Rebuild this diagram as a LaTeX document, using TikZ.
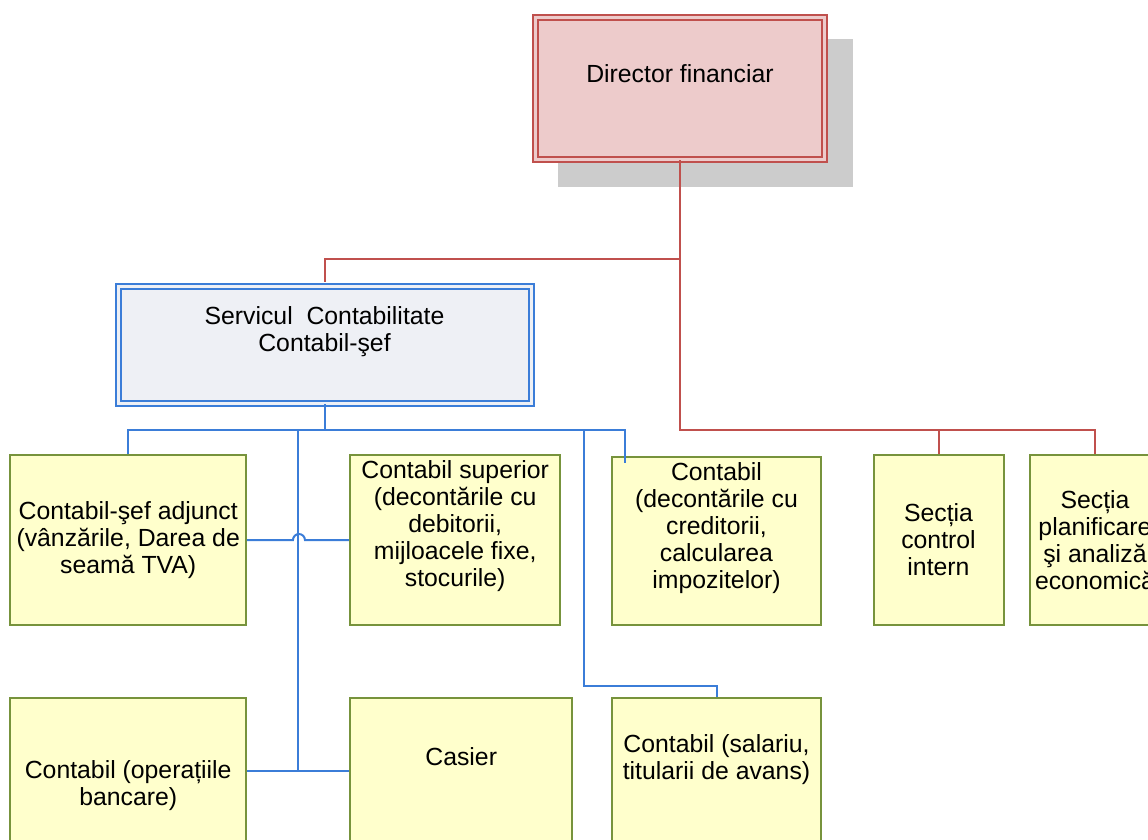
\documentclass[tikz,border=0pt]{standalone}
\usepackage{fontspec}
\setmainfont{Liberation Sans}
\usetikzlibrary{positioning}
\definecolor{redline}{HTML}{C0504D}
\definecolor{pinkfill}{HTML}{EDCBCB}
\definecolor{blueline}{HTML}{3B7DD8}
\definecolor{servfill}{HTML}{EEF0F5}
\definecolor{yelfill}{HTML}{FFFFCC}
\definecolor{olivedraw}{HTML}{77933C}
\definecolor{shadowgray}{HTML}{CCCCCC}

\begin{document}
\begin{tikzpicture}[x=1pt,y=-1pt,
    every node/.style={inner sep=0pt, align=center, font=\fontsize{24.8}{27}\selectfont},
    dirbox/.style={draw=redline, fill=pinkfill, line width=2pt, double=pinkfill, double distance=3pt},
    servbox/.style={draw=blueline, fill=servfill, line width=2pt, double=servfill, double distance=3pt},
    ybox/.style={draw=olivedraw, fill=yelfill, line width=2pt},
    rline/.style={draw=redline, line width=2pt},
    bline/.style={draw=blueline, line width=2pt}]
  \useasboundingbox (0,0) rectangle (1148,839);
  \fill[shadowgray] (558,39) rectangle (853,187);

  \node[dirbox, minimum width=288.5pt, minimum height=141.5pt] (dir) at (680,88.7) {};
  \node[servbox, minimum width=413pt, minimum height=116.5pt] (serv) at (324.5,345) {};

  \node[ybox, minimum width=235.5pt, minimum height=170pt] (adj) at (128.2,540)
    {Contabil-şef adjunct\\(vânzările, Darea de\\seamă TVA)};
  \node[ybox, minimum width=210.5pt, minimum height=170pt] (sup) at (455.2,540) {};
  \node[ybox, minimum width=209pt, minimum height=168pt] (cred) at (716.5,541) {};
  \node[ybox, minimum width=130pt, minimum height=170pt] (ctrl) at (938.5,540)
    {Secția\\control\\intern};
  \node[ybox, minimum width=130pt, minimum height=170pt] (plan) at (1095,540)
    {Secția\\planificare\\şi analiză\\economică};
  \node[ybox, minimum width=235.5pt, minimum height=146pt] (banc) at (128.2,771) {};
  \node[ybox, minimum width=222.5pt, minimum height=146pt] (cas) at (461.2,771) {};
  \node[ybox, minimum width=209pt, minimum height=146pt] (sal) at (716.5,771) {};

  \coordinate (rj) at (680,259);
  \coordinate (rb) at (680,430);
  \coordinate (bj) at (324.5,430);
  \coordinate (bv) at (298,430);
  \coordinate (bs) at (584,430);
  \coordinate (sk) at (584,686);
  \coordinate (cd) at (625,463);

  \draw[rline] (dir.south) -- (rj) -| ([yshift=3.5pt]serv.north);
  \draw[rline] (rj) -- (rb) -| (plan.north);
  \draw[rline] (ctrl.north) -- (ctrl.north |- rb);

  \draw[bline] (serv.south) -- (bj);
  \draw[bline] (adj.north) |- (bj) -| (cd);
  \draw[bline] (bv) -- (bv |- banc.east);
  \draw[bline] (banc.east) -- (cas.west);
  \draw[bline] (adj.east) -- ++(46,0) arc[start angle=180, end angle=0, radius=6pt] -- (sup.west);
  \draw[bline] (bs) -- (sk) -| (sal.north);

  \node[below=47pt of dir.north] (dir-t) {Director financiar};
  \node[below=21pt of serv.north] (serv-t) {Servicul~ Contabilitate\\Contabil-şef};
  \node[below=6.5pt of sup.north] (sup-t)
    {Contabil superior\\(decontările cu\\debitorii,\\mijloacele fixe,\\stocurile)};
  \node[below=6pt of cred.north] (cred-t)
    {Contabil\\(decontările cu\\creditorii,\\calcularea\\impozitelor)};
  \node[below=63.5pt of banc.north] (banc-t) {Contabil (operațiile\\bancare)};
  \node[below=50pt of cas.north] (cas-t) {Casier};
  \node[below=37pt of sal.north] (sal-t) {Contabil (salariu,\\titularii de avans)};
\end{tikzpicture}
\end{document}
